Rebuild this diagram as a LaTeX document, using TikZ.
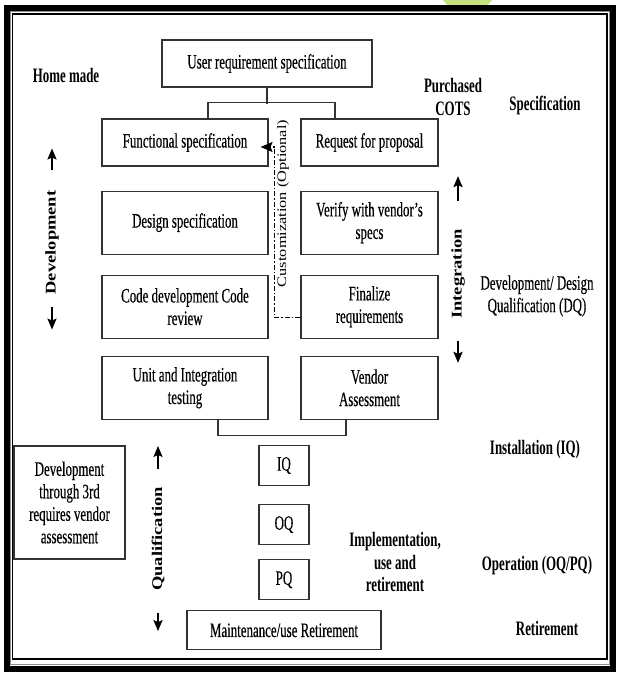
\documentclass[tikz,border=0pt]{standalone}
\usepackage{fontspec}
\setmainfont[FakeStretch=0.63, UprightFeatures={FakeBold=0.3}]{Liberation Serif}
\newfontfamily\rotfont{Liberation Serif}
\usepackage{graphicx}
\usepackage{tikz}
\usetikzlibrary{positioning, arrows.meta, calc}
\definecolor{leafgreen}{RGB}{196,226,128}
\newcommand{\diagfont}{\fontsize{20.5}{22.5}\selectfont}
\newcommand{\sidetext}[1]{\scalebox{1}[0.8]{#1}}
\tikzset{
  >={Stealth[length=11pt, width=9pt, inset=2pt]},
  box/.style={draw=black!80, line width=1.1pt, align=center, inner sep=2pt, minimum height=63pt},
  lbox/.style={box, minimum width=166pt},
  rbox/.style={box, minimum width=137pt},
  qbox/.style={box, minimum width=50pt, minimum height=40pt},
  phase/.style={align=center, inner sep=0pt, font=\diagfont\bfseries},
  side/.style={rotate=90, inner sep=0pt, font=\rotfont\fontsize{18.5}{20}\selectfont\bfseries},
  link/.style={draw=black!80, line width=1.1pt},
  updown/.style={->, line width=2.2pt},
  custom/.style={-{Stealth[length=12pt, width=10pt, inset=2pt]}, line width=1.4pt, dash pattern=on 5pt off 2pt on 1.5pt off 2pt},
}

\begin{document}
\begin{tikzpicture}[x=1pt, y=-1pt, font=\diagfont]
  \useasboundingbox (0,0) rectangle (617,675);
  \fill[leafgreen] (443,0) -- (492,0) -- (487,6) -- (448,6) -- cycle;
  \draw[line width=6pt] (6.5,8) rectangle (612.5,668.5);
  \draw[black!45, line width=1pt] (10.5,11.5) rectangle (609,664);
  \draw[line width=1.8pt] (12.5,14) rectangle (607,659);

  \node[box, minimum width=210pt, minimum height=47pt] (urs) at (267,63.5) {User requirement specification};
  \node[lbox, minimum height=47pt] (fs) at (185,142.5) {Functional specification};
  \node[rbox, minimum height=47pt] (rfp) at (369.5,142.5) {Request for proposal};
  \node[lbox, below=24pt of fs] (ds) {Design specification};
  \node[rbox, below=24pt of rfp] (vvs) {Verify with vendor’s\\specs};
  \node[lbox, below=20pt of ds] (cdr) {Code development Code\\review};
  \node[rbox, below=20pt of vvs] (fr) {Finalize\\requirements};
  \node[lbox, below=17pt of cdr] (uit) {Unit and Integration\\testing};
  \node[rbox, below=17pt of fr] (va) {Vendor\\Assessment};
  \node[qbox] (iq) at (284,465.5) {IQ};
  \node[qbox, below=18pt of iq] (oq) {OQ};
  \node[qbox, below=14pt of oq] (pq) {PQ};
  \node[box, minimum width=194pt, minimum height=39pt, below=10pt of pq] (mr) {Maintenance/use Retirement};
  \node[box, minimum width=111pt, minimum height=113pt] (dt3) at (69.5,502.5) {Development\\through 3rd\\requires vendor\\assessment};

  \draw[link] (urs.south) -- ++(0,16);
  \draw[link] ($(fs.north)+(23,0)$) -- ++(0,-16) -| ($(rfp.north)+(-34.5,0)$);
  \draw[link] ($(uit.south)+(33,0)$) -- ++(0,16) -| ($(va.south)+(-23.5,0)$);

  \coordinate (custtip) at ($(fs.east)+(-8,4.5)$);
  \draw[custom] ($(fr.west)+(0,10.5)$) -| ($(fs.east)+(6,4.5)$) -- (custtip);
  \node[rotate=90, inner sep=0pt, font=\rotfont\fontsize{16.3}{18}\selectfont] (cust) at (283,203.5) {\sidetext{Customization (Optional)}};

  \node[phase] (home) at (66,75) {Home made};
  \node[phase] (cots) at (453,97) {Purchased\\COTS};
  \node[phase] (spec) at (545,105) {Specification};
  \node[align=center, inner sep=0pt] (dq) at (537,296) {Development/ Design\\Qualification (DQ)};
  \node[phase] (inst) at (535,450) {Installation (IQ)};
  \node[phase] (impl) at (395,562) {Implementation,\\use and\\retirement};
  \node[phase] (oper) at (537,566) {Operation (OQ/PQ)};
  \node[phase] (ret) at (547,628) {Retirement};

  \node[side] (dev) at (52,242.5) {\sidetext{Development}};
  \node[side] (integ) at (458,274) {\sidetext{Integration}};
  \node[side] (qual) at (158,539) {\sidetext{Qualification}};
  \draw[updown] ($(dev.east)+(0,-20)$) -- ($(dev.east)+(0,-42)$);
  \draw[updown] ($(dev.west)+(0,12)$) -- ($(dev.west)+(0,35)$);
  \draw[updown] ($(integ.east)+(0,-28)$) -- ($(integ.east)+(0,-53)$);
  \draw[updown] ($(integ.west)+(0,22)$) -- ($(integ.west)+(0,44)$);
  \draw[updown] ($(qual.east)+(0,-18)$) -- ($(qual.east)+(0,-41)$);
  \draw[updown] ($(qual.west)+(0,22)$) -- ($(qual.west)+(0,40)$);
\end{tikzpicture}
\end{document}
